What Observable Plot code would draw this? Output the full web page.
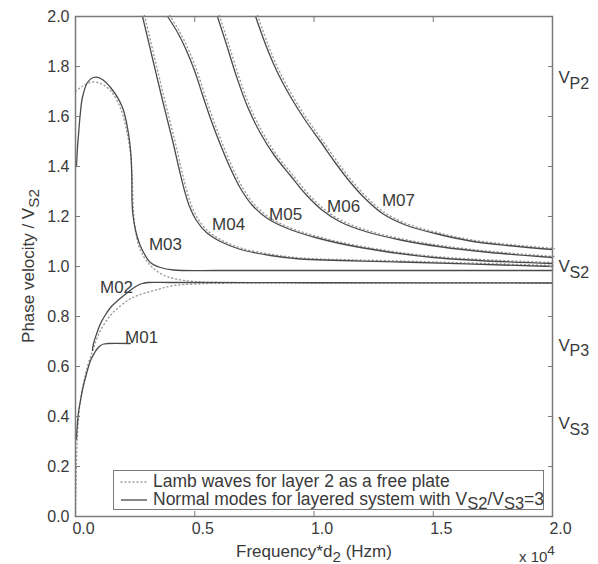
<!DOCTYPE html>
<html><head><meta charset="utf-8">
<script src="https://cdn.jsdelivr.net/npm/d3@7"></script>
<script src="https://cdn.jsdelivr.net/npm/@observablehq/plot@0.6"></script>
<style>
body{margin:0;background:#fff;font-family:"Liberation Sans",Arial,Helvetica,sans-serif;}
#wrap{position:relative;width:598px;height:564px;overflow:hidden;}
.ov{position:absolute;color:#3a3a3a;white-space:nowrap;line-height:1;}
.ov sub{font-size:0.9em;vertical-align:-0.35em;line-height:0;}
.ov sup{font-size:0.9em;vertical-align:0.55em;line-height:0;}
#legend{position:absolute;left:113px;top:470px;width:429px;height:38px;border:1.5px solid #7a7a7a;background:#fff;}
.lrow{position:absolute;left:0;height:19px;display:flex;align-items:center;font-size:17.5px;color:#3a3a3a;white-space:nowrap;}
.lrow svg{margin-left:6px;margin-right:5px;}
.lsub{font-size:16.5px;position:relative;top:4px;}
</style></head><body><div id="wrap"></div>
<script>
// ---- data (x in units of 1e4 Hz*m, y = phase velocity / Vs2) ----
const xTicks = [0, 0.5, 1.0, 1.5, 2.0];
const yTicks = [0, 0.2, 0.4, 0.6, 0.8, 1.0, 1.2, 1.4, 1.6, 1.8, 2.0];

const modeNames = ["M01", "M02", "M03", "M04", "M05", "M06", "M07"];
const modeLabelX = [0.277, 0.172, 0.377, 0.642, 0.881, 1.124, 1.354];
const modeLabelY = [0.716, 0.916, 1.088, 1.168, 1.208, 1.24, 1.264];

const m01 = [[0.004,0.31],[0.008,0.37],[0.013,0.42],[0.021,0.464],[0.03,0.51],[0.042,0.556],[0.063,0.624],[0.08,0.655],[0.092,0.672],[0.105,0.684],[0.118,0.69],[0.135,0.692],[0.23,0.692]];
const m02 = [[0.071,0.664],[0.075,0.69],[0.09,0.735],[0.105,0.772],[0.125,0.806],[0.147,0.836],[0.168,0.856],[0.195,0.878],[0.218,0.896],[0.24,0.912],[0.26,0.924],[0.28,0.932],[0.302,0.936],[0.4,0.936],[1.0,0.935],[2.0,0.934]];
const m03 = [[0.004,1.40],[0.008,1.47],[0.013,1.532],[0.02,1.61],[0.029,1.676],[0.05,1.736],[0.075,1.756],[0.105,1.752],[0.147,1.716],[0.197,1.636],[0.222,1.532],[0.232,1.45],[0.236,1.36],[0.237,1.264],[0.241,1.205],[0.252,1.144],[0.265,1.1],[0.281,1.064],[0.314,1.016],[0.356,0.996],[0.411,0.986],[0.6,0.984],[1.0,0.984],[2.0,0.984]];
const m04 = [[0.281,2.0],[0.323,1.832],[0.365,1.664],[0.407,1.504],[0.436,1.384],[0.457,1.304],[0.478,1.24],[0.507,1.184],[0.549,1.136],[0.608,1.1],[0.692,1.068],[0.818,1.044],[0.943,1.03],[1.363,1.018],[2.0,1.0]];
const m05 = [[0.386,2.0],[0.428,1.936],[0.465,1.864],[0.499,1.784],[0.532,1.688],[0.566,1.592],[0.604,1.496],[0.646,1.4],[0.692,1.312],[0.742,1.244],[0.805,1.192],[0.889,1.152],[1.006,1.116],[1.195,1.076],[1.501,1.036],[2.0,1.012]];
const m06 = [[0.595,2.0],[0.633,1.888],[0.675,1.76],[0.721,1.64],[0.776,1.532],[0.834,1.444],[0.901,1.364],[0.969,1.285],[1.036,1.224],[1.111,1.178],[1.216,1.14],[1.363,1.106],[1.53,1.079],[1.74,1.056],[2.0,1.036]];
const m07 = [[0.755,2.0],[0.797,1.888],[0.843,1.784],[0.901,1.68],[0.964,1.584],[1.027,1.5],[1.09,1.414],[1.153,1.336],[1.216,1.27],[1.287,1.212],[1.384,1.166],[1.509,1.132],[1.656,1.102],[1.824,1.083],[2.0,1.068]];

// Lamb waves for layer 2 as a free plate (dotted)
const lambS0 = [[0,1.70],[0.03,1.722],[0.07,1.738],[0.11,1.73],[0.15,1.70],[0.19,1.63],[0.215,1.54],[0.232,1.44],[0.239,1.33],[0.243,1.22],[0.252,1.14],[0.27,1.07],[0.3,1.02],[0.33,0.99],[0.37,0.965],[0.42,0.95],[0.5,0.94],[0.65,0.936],[1.0,0.935],[2.0,0.934]];
const lambA0 = [[0,0],[0.002,0.12],[0.005,0.25],[0.01,0.36],[0.02,0.46],[0.035,0.54],[0.05,0.6],[0.065,0.645],[0.075,0.672],[0.1,0.735],[0.15,0.808],[0.22,0.865],[0.26,0.884],[0.33,0.904],[0.4,0.922],[0.5,0.93],[0.7,0.934],[2.0,0.934]];

const rightLabelY = [1.755, 1.0, 0.685, 0.37];
const rightLabelSub = ["P2", "S2", "P3", "S3"];

// ---- build tables ----
const modeArrays = [m01, m02, m03, m04, m05, m06, m07];
const solidRows = modeArrays.flatMap((arr, i) => arr.map(([x, y]) => ({x, y, mode: modeNames[i]})));
const lambRows = [["S0", lambS0], ["A0", lambA0]].flatMap(([k, arr]) => arr.map(([x, y]) => ({x, y, mode: k})));
const lambHigher = [m04, m05, m06, m07].flatMap((arr, i) => arr.map(([x, y]) => ({x, y, mode: "L" + i})));
const labelRows = modeNames.map((t, i) => ({t, x: modeLabelX[i], y: modeLabelY[i]}));
const rightRows = rightLabelSub.map((s, i) => ({s, y: rightLabelY[i], x: 2.0}));

const ink = "#4a4a4a";
const dotted = {stroke: "#9c9c9c", strokeWidth: 1.4, strokeDasharray: "1,3", strokeLinecap: "round", curve: "catmull-rom"};

const chart = Plot.plot({
  width: 598, height: 564,
  marginLeft: 75, marginRight: 46, marginTop: 16, marginBottom: 48,
  style: {fontFamily: "Liberation Sans, Arial, sans-serif", fontSize: "16px", color: "#3a3a3a", background: "#fff"},
  x: {domain: [0, 2], axis: null},
  y: {domain: [0, 2], axis: null},
  marks: [
    Plot.line(lambRows, {x: "x", y: "y", z: "mode", ...dotted}),
    Plot.line(lambHigher, {x: "x", y: "y", z: "mode", ...dotted, dx: 2, dy: -1}),
    Plot.line(solidRows, {x: "x", y: "y", z: "mode", stroke: ink, strokeWidth: 1.3, curve: "catmull-rom"}),
    Plot.frame({stroke: "#7a7a7a", strokeWidth: 1.5}),
    Plot.axisX({anchor: "bottom", ticks: xTicks, tickSize: -5, fill: "none", stroke: "#7a7a7a"}),
    Plot.axisX({anchor: "top", ticks: xTicks, tickSize: -5, fill: "none", stroke: "#7a7a7a"}),
    Plot.axisY({anchor: "left", ticks: yTicks, tickSize: -5, fill: "none", stroke: "#7a7a7a"}),
    Plot.axisY({anchor: "right", ticks: yTicks, tickSize: -5, fill: "none", stroke: "#7a7a7a"}),
    Plot.axisX({anchor: "bottom", ticks: xTicks, tickSize: 0, tickPadding: 6, dx: 8, tickFormat: d3.format(".1f"), fill: "#3a3a3a", label: null, fontSize: 16}),
    Plot.axisY({anchor: "left", ticks: yTicks, tickSize: 0, tickPadding: 6, tickFormat: d3.format(".1f"), fill: "#3a3a3a", label: null, fontSize: 16}),
    Plot.text(labelRows, {x: "x", y: "y", text: "t", fill: "#3a3a3a", fontSize: 17}),
    Plot.text(rightRows, {x: "x", y: "y", text: () => "V", dx: 6, textAnchor: "start", fill: "#3a3a3a", fontSize: 17}),
    Plot.text(rightRows, {x: "x", y: "y", text: "s", dx: 17, dy: 6, textAnchor: "start", fill: "#3a3a3a", fontSize: 16})
  ]
});

const wrap = document.getElementById("wrap");
chart.style.position = "absolute";
chart.style.left = "0";
chart.style.top = "0";
wrap.appendChild(chart);

function addOv(html, css) {
  const d = document.createElement("div");
  d.className = "ov";
  d.innerHTML = html;
  Object.assign(d.style, css);
  wrap.appendChild(d);
  return d;
}
// x-axis title
addOv("Frequency*d<sub>2</sub> (Hzm)", {left: "0px", width: "628px", textAlign: "center", top: "543px", fontSize: "17px"});
// x 10^4
addOv("x 10<sup>4</sup>", {left: "519px", top: "549px", fontSize: "15px"});
// y-axis title (rotated)
const yt = addOv("Phase velocity / V<sub>S2</sub>", {left: "28px", top: "266px", fontSize: "17px"});
yt.style.transform = "translate(-50%,-50%) rotate(-90deg)";

// legend
const lg = document.createElement("div");
lg.id = "legend";
lg.innerHTML =
  '<div class="lrow" style="top:1px"><svg width="28" height="6"><line x1="1" y1="3" x2="27" y2="3" stroke="#9c9c9c" stroke-width="1.4" stroke-dasharray="1,3" stroke-linecap="round"/></svg>Lamb waves for layer 2 as a free plate</div>' +
  '<div class="lrow" style="top:19px"><svg width="28" height="6"><line x1="1" y1="3" x2="27" y2="3" stroke="' + ink + '" stroke-width="1.3"/></svg>Normal modes for layered system with V<span class="lsub">S2</span>/V<span class="lsub">S3</span>=3</div>';
wrap.appendChild(lg);
</script>
</body></html>
